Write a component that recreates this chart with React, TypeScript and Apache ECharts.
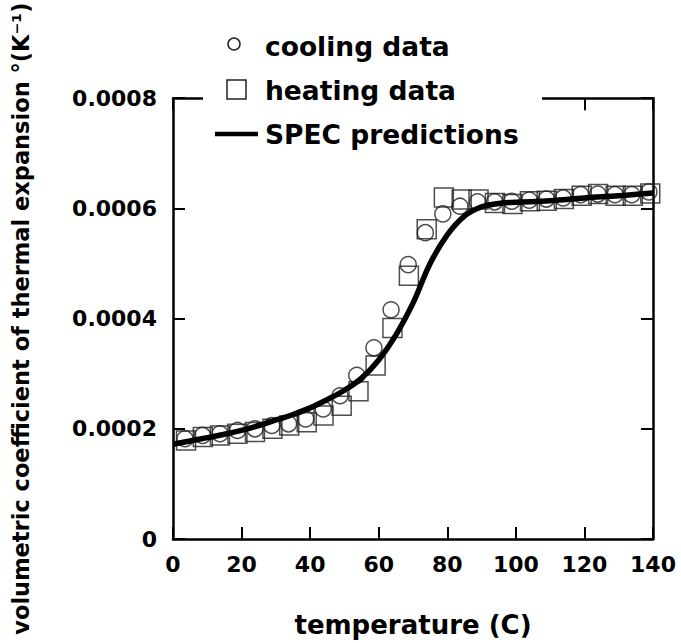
import React, { useEffect, useRef } from "react";
import * as echarts from "echarts";

// SPEC predictions (smooth curve)
const specT = [0, 5, 10, 15, 20, 25, 30, 35, 40, 45, 50, 55, 60, 65, 70, 75, 80, 85, 90, 95, 100, 110, 120, 130, 140];
const specAlpha = [0.000172, 0.000178, 0.000184, 0.00019, 0.000197, 0.000206, 0.000216, 0.000226, 0.000238, 0.000253, 0.00027, 0.000292, 0.000325, 0.00037, 0.000428, 0.0005, 0.000552, 0.000586, 0.000603, 0.000609, 0.000611, 0.000614, 0.000619, 0.000623, 0.000628];

// cooling data (circles)
const coolingT = [3.5, 8.6, 13.7, 18.8, 23.9, 28.8, 33.7, 38.7, 43.8, 48.7, 53.6, 58.6, 63.6, 68.6, 73.6, 78.7, 83.7, 88.8, 93.8, 98.8, 103.9, 108.9, 113.8, 118.9, 123.9, 128.9, 133.8, 138.8];
const coolingAlpha = [0.000182, 0.000188, 0.000191, 0.000197, 0.0002, 0.000206, 0.000209, 0.000218, 0.000236, 0.00026, 0.000297, 0.000347, 0.000416, 0.000498, 0.000556, 0.00059, 0.000604, 0.000612, 0.000612, 0.000613, 0.000615, 0.000617, 0.000619, 0.000625, 0.000626, 0.000625, 0.000625, 0.00063];

// heating data (squares)
const heatingT = [3.8, 8.7, 13.7, 18.8, 23.9, 29, 33.9, 39, 43.9, 49.2, 54.1, 59.1, 64, 68.8, 74, 79, 84.2, 89.1, 93.9, 99, 104.1, 109, 114, 119.2, 124, 129.1, 134.1, 139.2];
const heatingAlpha = [0.000179, 0.000185, 0.000188, 0.000191, 0.000194, 0.0002, 0.000206, 0.000212, 0.000224, 0.000242, 0.000268, 0.000315, 0.000383, 0.000478, 0.000562, 0.00062, 0.000616, 0.000616, 0.00061, 0.000608, 0.000613, 0.000614, 0.000617, 0.000623, 0.000626, 0.000623, 0.000623, 0.000627];

const xTicks = [0, 20, 40, 60, 80, 100, 120, 140];
const yTicks = [0, 0.0002, 0.0004, 0.0006, 0.0008];

const FONT = '"DejaVu Sans", sans-serif';

export default function App() {
  const ref = useRef<HTMLDivElement>(null);
  useEffect(() => {
    if (!ref.current) return;
    const chart = echarts.init(ref.current, null, { renderer: "svg" });
    const axisLineStyle = { color: "#000", width: 2.5 };
    const tickStyle = { color: "#000", width: 2 };
    const baseX = {
      type: "value" as const,
      min: xTicks[0],
      max: xTicks[xTicks.length - 1],
      interval: 20,
      splitLine: { show: false },
      axisLine: { show: true, onZero: false, lineStyle: axisLineStyle },
      axisTick: { show: true, inside: true, length: 12, lineStyle: tickStyle },
    };
    const baseY = {
      type: "value" as const,
      min: yTicks[0],
      max: yTicks[yTicks.length - 1],
      interval: 0.0002,
      splitLine: { show: false },
      axisLine: { show: true, onZero: false, lineStyle: axisLineStyle },
      axisTick: { show: true, inside: true, length: 12, lineStyle: tickStyle },
    };
    chart.setOption({
      animation: false,
      backgroundColor: "#fff",
      grid: { left: 173, right: 28, top: 93, bottom: 103 },
      xAxis: [
        {
          ...baseX,
          position: "bottom",
          name: "temperature (C)",
          nameLocation: "middle",
          nameGap: 73,
          nameTextStyle: { fontFamily: FONT, fontWeight: "bold", fontSize: 26, color: "#000" },
          axisLabel: { margin: 14, fontFamily: FONT, fontWeight: "bold", fontSize: 22, color: "#000" },
        },
        { ...baseX, position: "top", axisLabel: { show: false } },
      ],
      yAxis: [
        {
          ...baseY,
          position: "left",
          name: "volumetric coefficient of thermal expansion °(K⁻¹)",
          nameLocation: "middle",
          nameRotate: 90,
          nameGap: 141,
          nameTextStyle: { fontFamily: FONT, fontWeight: "bold", fontSize: 22.5, color: "#000" },
          axisLabel: {
            margin: 16,
            fontFamily: FONT,
            fontWeight: "bold",
            fontSize: 22,
            color: "#000",
            formatter: (v: number) => (v === 0 ? "0" : v.toFixed(4)),
          },
        },
        { ...baseY, position: "right", axisLabel: { show: false } },
      ],
      series: [
        {
          name: "heating data",
          type: "scatter",
          symbol: "rect",
          symbolSize: 19,
          itemStyle: { color: "rgba(0,0,0,0)", borderColor: "#222", borderWidth: 1.5 },
          data: heatingT.map((t, i) => [t, heatingAlpha[i]]),
          z: 2,
        },
        {
          name: "cooling data",
          type: "scatter",
          symbol: "circle",
          symbolSize: 16,
          itemStyle: { color: "rgba(0,0,0,0)", borderColor: "#222", borderWidth: 1.5 },
          data: coolingT.map((t, i) => [t, coolingAlpha[i]]),
          z: 3,
        },
        {
          name: "SPEC predictions",
          type: "line",
          smooth: 0.4,
          showSymbol: false,
          lineStyle: { color: "#000", width: 5.5 },
          data: specT.map((t, i) => [t, specAlpha[i]]),
          z: 4,
        },
      ],
      graphic: {
        elements: [
          { type: "rect", z: 100, shape: { x: 203, y: 15, width: 339, height: 105 }, style: { fill: "#fff" } },
          { type: "circle", z: 101, shape: { cx: 234, cy: 44, r: 6 }, style: { fill: "none", stroke: "#222", lineWidth: 1.5 } },
          { type: "rect", z: 101, shape: { x: 227, y: 80, width: 19, height: 19 }, style: { fill: "none", stroke: "#222", lineWidth: 1.5 } },
          { type: "line", z: 101, shape: { x1: 215, y1: 134, x2: 258, y2: 134 }, style: { stroke: "#000", lineWidth: 4.5 } },
          { type: "text", z: 101, x: 265, y: 46, style: { text: "cooling data", fontFamily: FONT, fontWeight: "bold", fontSize: 26.5, fill: "#000", verticalAlign: "middle" } },
          { type: "text", z: 101, x: 265, y: 90, style: { text: "heating data", fontFamily: FONT, fontWeight: "bold", fontSize: 26.5, fill: "#000", verticalAlign: "middle" } },
          { type: "text", z: 101, x: 265, y: 134, style: { text: "SPEC predictions", fontFamily: FONT, fontWeight: "bold", fontSize: 26.5, fill: "#000", verticalAlign: "middle" } },
        ],
      },
    });
    return () => chart.dispose();
  }, []);
  return <div ref={ref} style={{ position: "fixed", left: 0, top: 0, width: 681, height: 643 }} />;
}
